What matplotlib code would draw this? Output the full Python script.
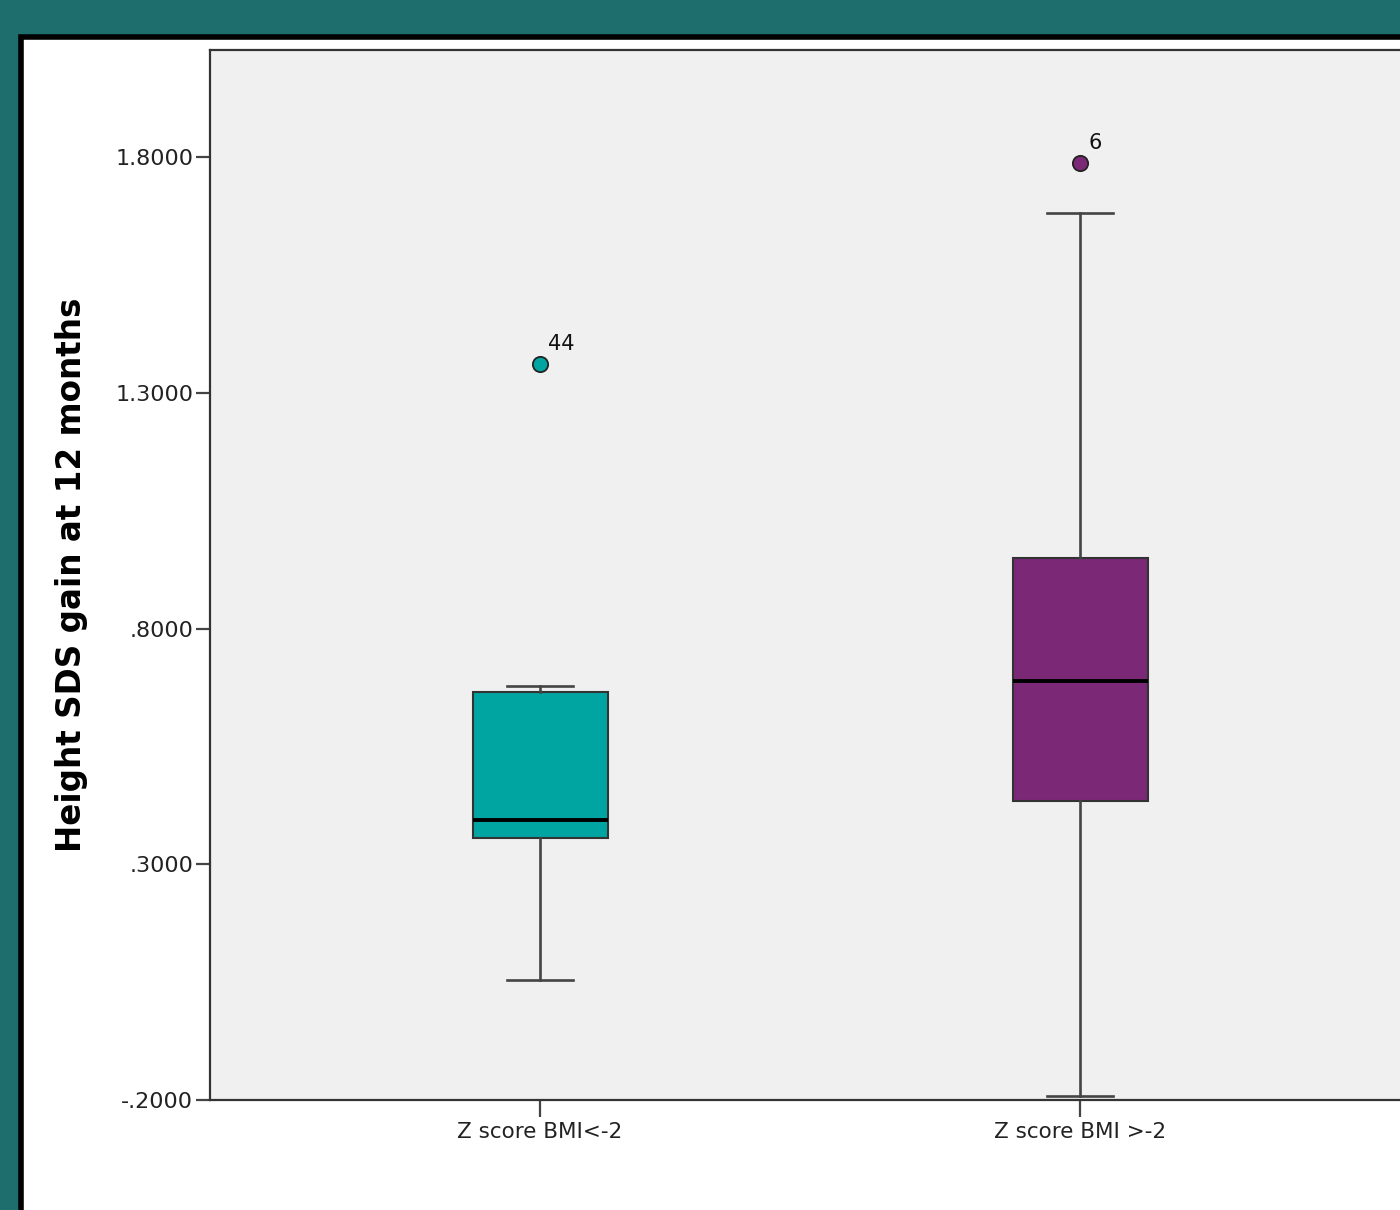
import matplotlib
matplotlib.use('Agg')
import matplotlib.pyplot as plt
import matplotlib.patches as patches
from matplotlib.ticker import FuncFormatter

plt.rcParams['font.family'] = 'DejaVu Sans'

# Данные
groups = ['Z score BMI<-2', 'Z score BMI >-2']
q1 = [0.356, 0.434]
median = [0.394, 0.689]
q3 = [0.665, 0.950]
whislo = [0.055, -0.191]
whishi = [0.678, 1.681]
outliers = [[1.361], [1.787]]
outlier_ids = [['44'], ['6']]
colors = ['#00a5a2', '#7b2877']

yticks = [-0.2, 0.3, 0.8, 1.3, 1.8]

fig = plt.figure(figsize=(14, 12.1), dpi=100)
fig.patch.set_facecolor('#1d6e6c')

# белая панель с чёрной рамкой
panel = patches.Rectangle((21 / 1400, -0.05), 1.1, 1 - 37 / 1210 + 0.05,
                          transform=fig.transFigure, facecolor='white',
                          edgecolor='black', linewidth=4, zorder=-1)
fig.patches.append(panel)

ax = fig.add_axes([210 / 1400, 1 - 1100 / 1210, 1200 / 1400, 1050 / 1210])
ax.set_facecolor('#f0f0f0')

stats = []
for i in range(len(groups)):
    stats.append({'med': median[i], 'q1': q1[i], 'q3': q3[i],
                  'whislo': whislo[i], 'whishi': whishi[i],
                  'fliers': outliers[i], 'label': groups[i]})

pos = [1, 2]
bp = ax.bxp(stats, positions=pos, widths=0.25, patch_artist=True,
            showfliers=True,
            boxprops=dict(edgecolor='#333333', linewidth=1.5),
            medianprops=dict(color='black', linewidth=2.8),
            whiskerprops=dict(color='#444444', linewidth=1.9),
            capprops=dict(color='#444444', linewidth=1.9),
            capwidths=0.122)
for box, c in zip(bp['boxes'], colors):
    box.set_facecolor(c)
for fl, c in zip(bp['fliers'], colors):
    fl.set(marker='o', markerfacecolor=c, markeredgecolor='#222222',
           markersize=11, markeredgewidth=1.3)

for i in range(len(groups)):
    for v, lab in zip(outliers[i], outlier_ids[i]):
        ax.annotate(lab, (pos[i], v), xytext=(6, 7), textcoords='offset points',
                    fontsize=15, ha='left', va='bottom', color='#111111')

ax.set_xlim(1 - 330 / 540, 2 + 330 / 540)
ax.set_ylim(-0.2, 2.027)
ax.set_yticks(yticks)


def fmt(v, p):
    s = '%.4f' % v
    if s.startswith('0.'):
        s = s[1:]
    elif s.startswith('-0.'):
        s = '-' + s[2:]
    return s


ax.yaxis.set_major_formatter(FuncFormatter(fmt))
ax.set_xticks(pos)
ax.set_xticklabels(groups)
ax.tick_params(axis='y', labelsize=16, length=10, width=1.6, color='#444444',
               labelcolor='#222222', pad=2)
ax.tick_params(axis='x', labelsize=15.5, length=12, width=1.6, color='#444444',
               labelcolor='#222222', pad=4)
for s in ax.spines.values():
    s.set_color('#333333')
    s.set_linewidth(1.6)

ax.set_ylabel('Height SDS gain at 12 months', fontsize=23.5, fontweight='bold',
              labelpad=20, color='black')

fig.savefig('out.png', dpi=100, facecolor=fig.get_facecolor())
